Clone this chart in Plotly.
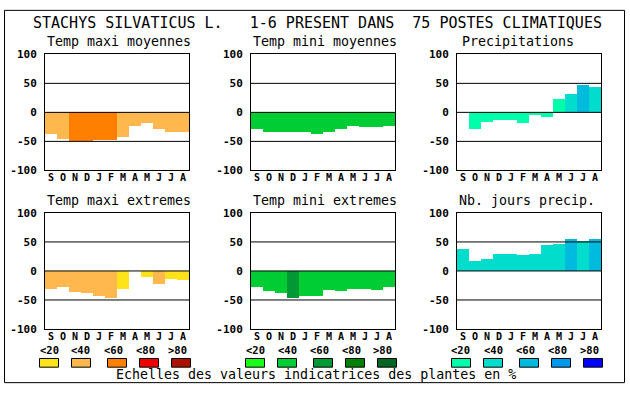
import plotly.graph_objects as go

# ---------------- data ----------------
months = ["S", "O", "N", "D", "J", "F", "M", "A", "M", "J", "J", "A"]
y_ticks = [100, 50, 0, -50, -100]
legend_labels = ["<20", "<40", "<60", "<80", ">80"]

title_text = "STACHYS SILVATICUS L.   1-6 PRESENT DANS  75 POSTES CLIMATIQUES"
footer_text = "Echelles des valeurs indicatrices des plantes en %"

panel_titles = ["Temp maxi moyennes", "Temp mini moyennes", "Precipitations",
                "Temp maxi extremes", "Temp mini extremes", "Nb. jours precip."]

# values (%)
tmax_moy = [-38, -46, -49, -49, -48, -48, -43, -24, -18, -28, -33, -33]
tmin_moy = [-28, -34, -34, -33, -34, -38, -33, -28, -24, -26, -26, -24]
precip = [0, -28, -16, -14, -14, -18, -4, -8, 23, 32, 48, 43]
tmax_ext = [-31, -28, -36, -38, -43, -46, -31, -3, -11, -23, -14, -16]
tmin_ext = [-28, -34, -38, -46, -44, -44, -33, -34, -31, -31, -33, -28]
njours = [37, 17, 20, 30, 30, 27, 30, 45, 47, 55, 52, 55]

# colour class of each bar (index into the scale, -1 = none)
tmax_moy_cls = [1, 1, 2, 2, 2, 2, 1, 1, 1, 1, 1, 1]
tmin_moy_cls = [1, 1, 1, 1, 1, 1, 1, 1, 1, 1, 1, 1]
precip_cls = [0, 0, 0, 0, 0, 0, 0, 0, 0, 1, 2, 1]
tmax_ext_cls = [1, 1, 1, 1, 1, 1, 0, -1, 0, 1, 0, 0]
tmin_ext_cls = [1, 1, 1, 2, 1, 1, 1, 1, 1, 1, 1, 1]
njours_cls = [1, 1, 1, 1, 1, 1, 1, 1, 1, 2, 1, 2]

orange_scale = ["#FFE31A", "#FFB84D", "#FF8000", "#EE0000", "#AA1100"]
green_scale = ["#1AFF1A", "#00CC33", "#009933", "#008000", "#006622"]
blue_scale = ["#00FFAA", "#00DDCC", "#00BBDD", "#0099EE", "#0000FF"]

panels = [
    (tmax_moy, tmax_moy_cls, orange_scale),
    (tmin_moy, tmin_moy_cls, green_scale),
    (precip, precip_cls, blue_scale),
    (tmax_ext, tmax_ext_cls, orange_scale),
    (tmin_ext, tmin_ext_cls, green_scale),
    (njours, njours_cls, blue_scale),
]
scales = [orange_scale, green_scale, blue_scale]

# ---------------- layout helpers ----------------
W, H = 630, 394
MONO = "DejaVu Sans Mono"


def px(x):
    return x / W


def py(y):
    return 1 - y / H


col_left = [45, 251, 457]
panel_w = 144
row_top = [50, 214]
panel_h = 120
title_x = [45, 251, 460, 45, 251, 457]

fig = go.Figure()
layout = dict(
    width=W, height=H, margin=dict(l=0, r=0, t=0, b=0),
    paper_bgcolor="white", plot_bgcolor="white", showlegend=False,
    bargap=0, font=dict(family=MONO, color="black"),
)
shapes = []
annotations = []

for i, (vals, cls, scale) in enumerate(panels):
    r, c = divmod(i, 3)
    n = "" if i == 0 else str(i + 1)
    colors = [scale[k] if k >= 0 else "white" for k in cls]
    fig.add_trace(go.Bar(
        x=list(range(len(months))), y=vals, marker=dict(color=colors, line=dict(width=0)),
        width=1, xaxis="x" + n, yaxis="y" + n, hoverinfo="skip",
    ))
    x0, y0 = col_left[c], row_top[r]
    layout["xaxis" + n] = dict(
        domain=[px(x0), px(x0 + panel_w)], anchor="y" + n,
        range=[-0.5, len(months) - 0.5], tickmode="array",
        tickvals=list(range(len(months))), ticktext=months,
        showgrid=False, zeroline=False, showline=True, mirror=True,
        linecolor="black", linewidth=1, ticks="", ticklabelstandoff=-2,
        tickfont=dict(family=MONO, size=10, color="black", weight="bold"),
        fixedrange=True,
    )
    layout["yaxis" + n] = dict(
        domain=[py(y0 + panel_h), py(y0)], anchor="x" + n,
        range=[-100, 100], tickmode="array", tickvals=y_ticks,
        ticktext=[str(v) for v in y_ticks],
        showgrid=False, zeroline=False, showline=True, mirror=True,
        linecolor="black", linewidth=1, ticks="", ticklabelstandoff=5,
        tickfont=dict(family=MONO, size=11, color="black", weight="bold"),
        fixedrange=True,
    )
    for gv in [50, 0, -50]:
        shapes.append(dict(type="line", xref="x" + n + " domain", yref="y" + n,
                           x0=0, x1=1, y0=gv, y1=gv, layer="above",
                           line=dict(color="black", width=1)))
    annotations.append(dict(
        text=panel_titles[i], xref="paper", yref="paper",
        x=px(title_x[i]), y=py(y0 - 13), xanchor="left", yanchor="middle",
        showarrow=False, font=dict(family=MONO, size=13.3, color="black")))

# main title and footer
annotations.append(dict(text=title_text.replace(" ", "&nbsp;"), xref="paper", yref="paper",
                        x=px(31), y=py(17.5), xanchor="left", yanchor="middle",
                        showarrow=False, font=dict(family=MONO, size=15, color="black")))
annotations.append(dict(text=footer_text, xref="paper", yref="paper",
                        x=px(316), y=py(381.5), xanchor="center", yanchor="middle",
                        showarrow=False, font=dict(family=MONO, size=13.3, color="black")))

# colour scale legends
label_off = [10, 42, 74, 106, 138]
box_off = [0, 32, 68, 100, 132]
for c, scale in enumerate(scales):
    base = col_left[c] - 6
    for k, lab in enumerate(legend_labels):
        annotations.append(dict(text=lab.replace("<", "&lt;").replace(">", "&gt;"),
                                xref="paper", yref="paper",
                                x=px(base + label_off[k]), y=py(356), xanchor="center",
                                yanchor="middle", showarrow=False,
                                font=dict(family=MONO, size=10.5, color="black", weight="bold")))
        shapes.append(dict(type="rect", xref="paper", yref="paper",
                           x0=px(base + box_off[k] + 0.5), x1=px(base + box_off[k] + 19.5),
                           y0=py(373.5), y1=py(364.5), fillcolor=scale[k],
                           line=dict(color="black", width=1)))

# outer frame
shapes.append(dict(type="rect", xref="paper", yref="paper",
                   x0=px(4.5), x1=px(624.5), y0=py(389.5), y1=py(4.5),
                   line=dict(color="black", width=1), fillcolor="rgba(0,0,0,0)"))

layout["shapes"] = shapes
layout["annotations"] = annotations
fig.update_layout(**layout)
fig.write_html(
    "out.html",
    config={"displayModeBar": False, "staticPlot": True},
    post_script="document.body.style.margin='0';document.body.style.overflow='hidden';",
)
